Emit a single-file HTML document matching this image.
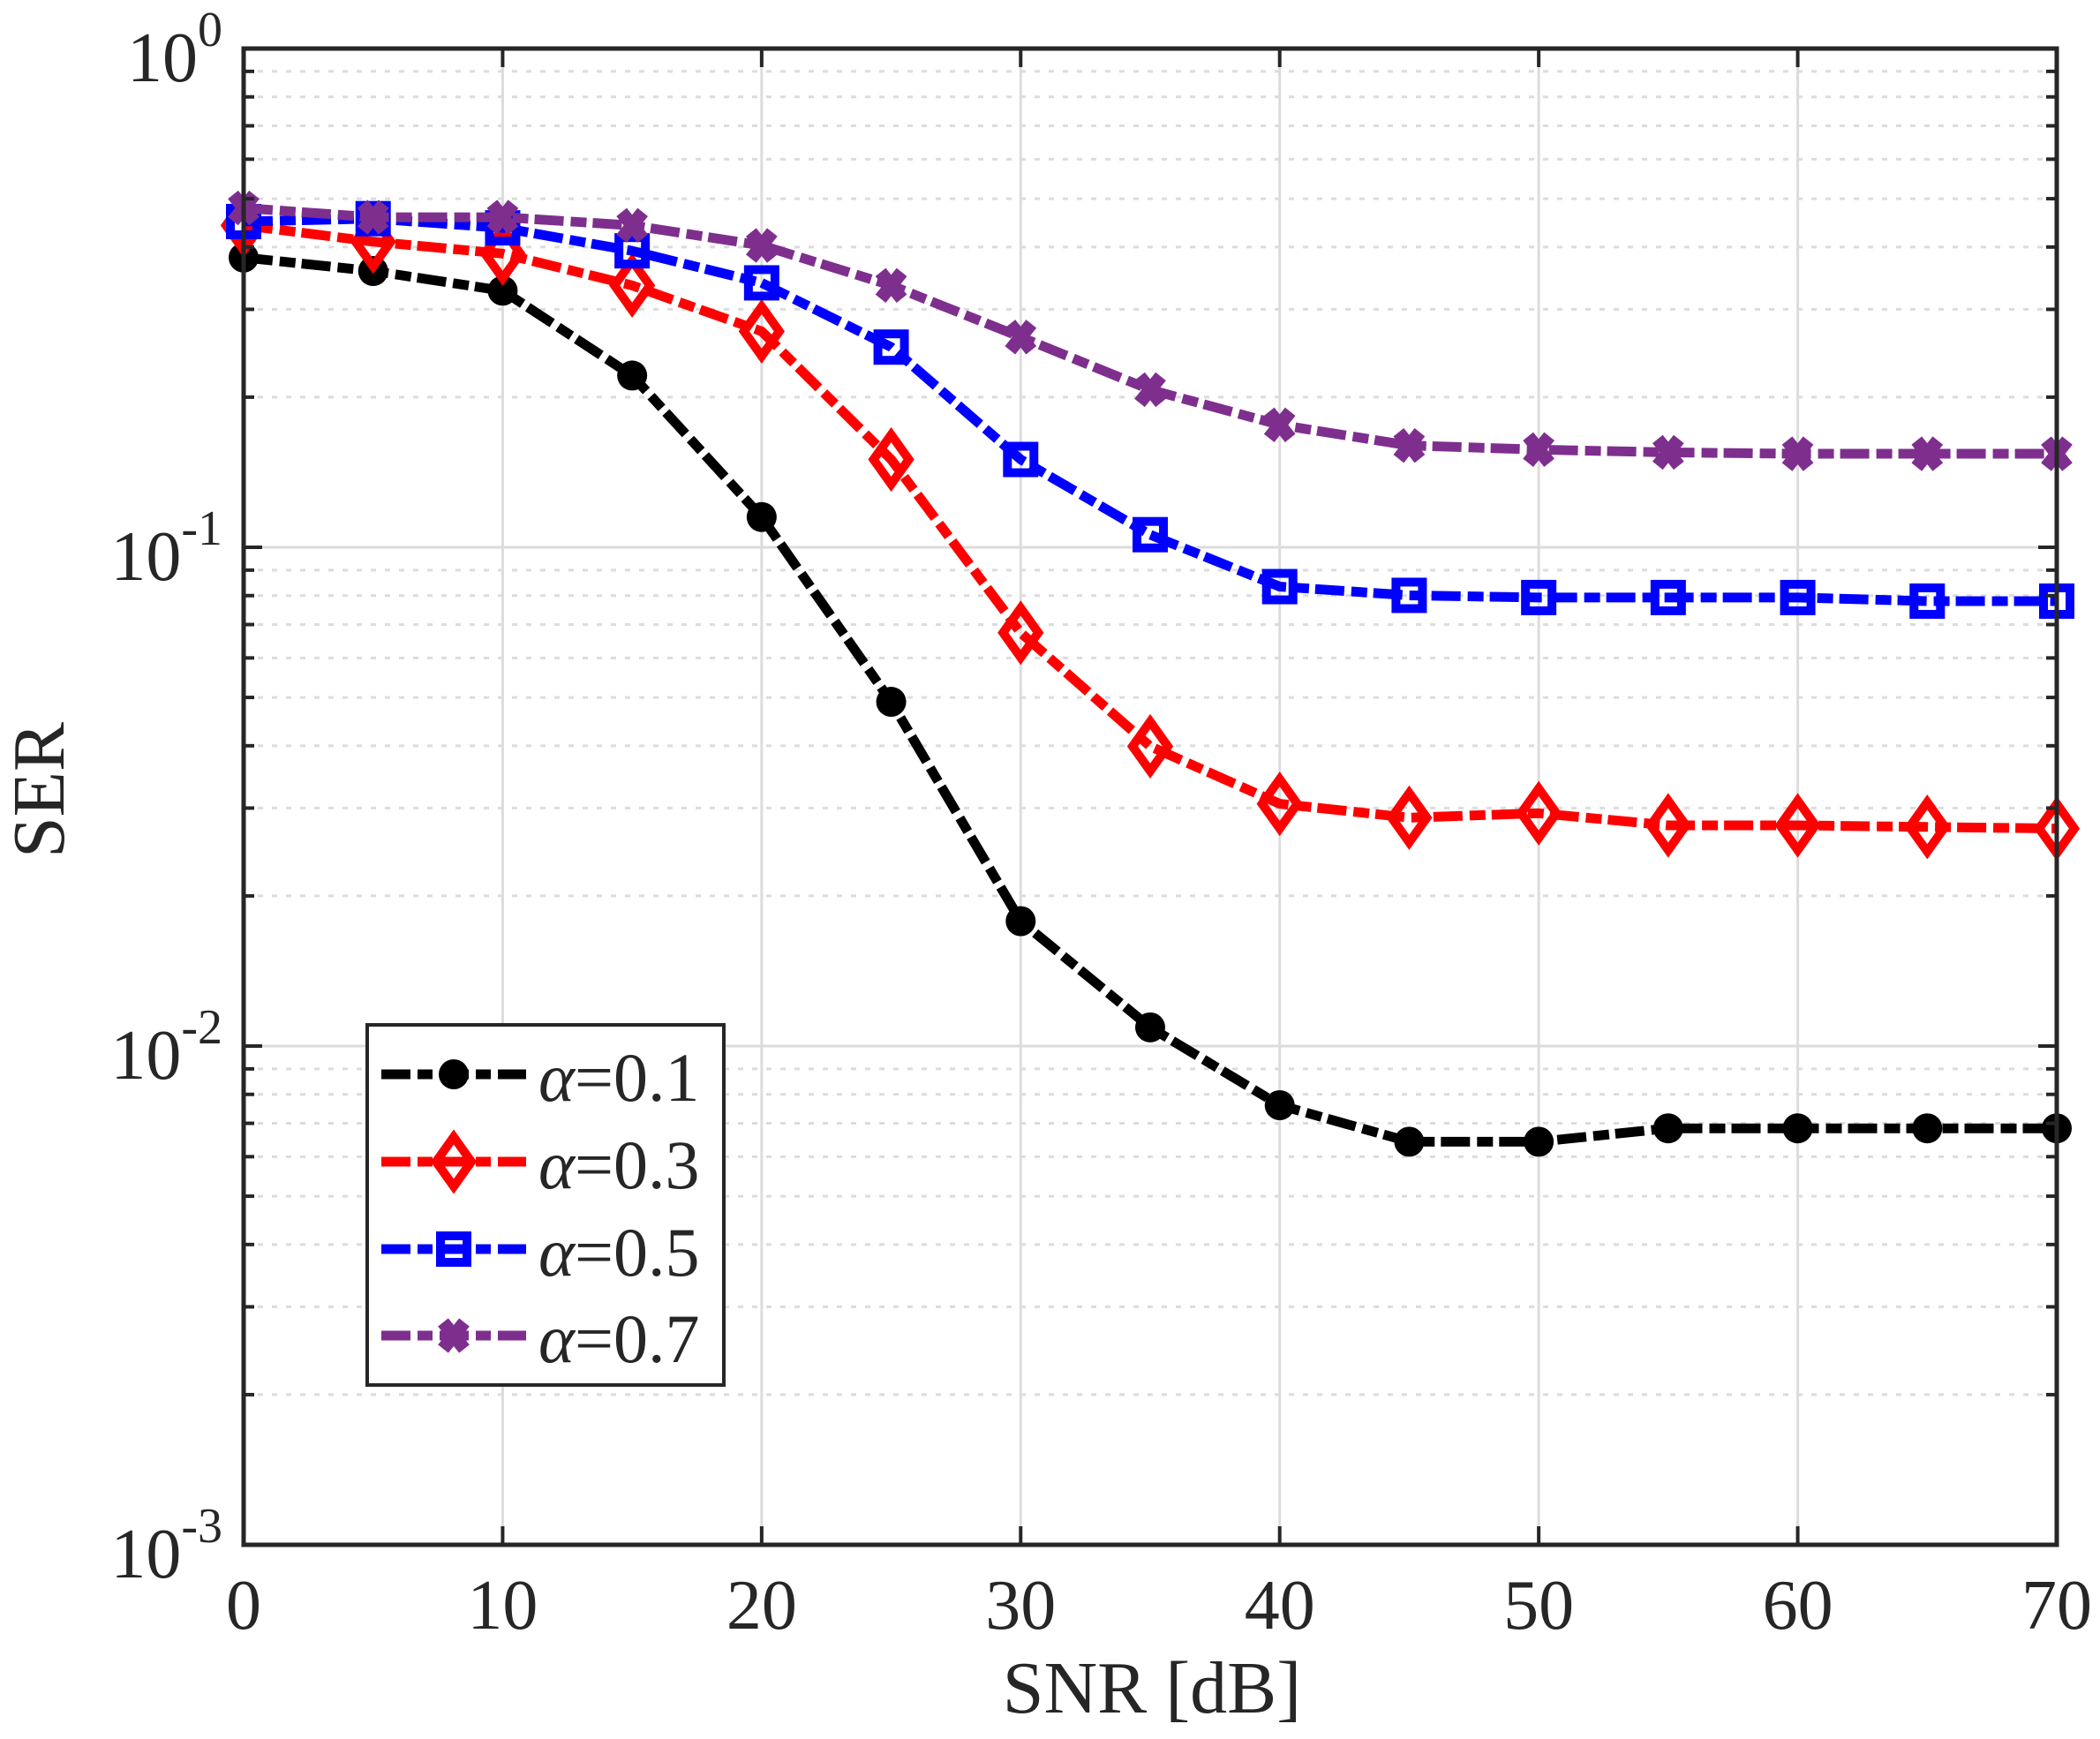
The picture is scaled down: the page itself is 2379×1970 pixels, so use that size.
<!DOCTYPE html>
<html><head><meta charset="utf-8"><style>html,body{margin:0;padding:0;background:#fff}svg{display:block}</style></head>
<body>
<svg id="chart" width="2379" height="1970" viewBox="0 0 2379 1970" xmlns="http://www.w3.org/2000/svg" font-family="'Liberation Serif', serif">
<rect x="0" y="0" width="2379" height="1970" fill="#fff"/>
<g id="grid"></g>
<g id="series"></g>
<g id="axes"></g>
<text x="1305" y="1940" font-size="84" text-anchor="middle" fill="#262626">SNR [dB]</text>
<text transform="translate(72,895) rotate(-90)" font-size="84" text-anchor="middle" fill="#262626">SER</text>
<g id="legend"></g>
</svg>
<script>
const snr = [0,5,10,15,20,25,30,35,40,45,50,55,60,65,70];
const ser01 = [0.381,0.358,0.327,0.221,0.115,0.049,0.0178,0.0109,0.00761,0.00643,0.00643,0.00684,0.00684,0.00684,0.00684];
const ser03 = [0.442,0.410,0.388,0.335,0.271,0.150,0.0674,0.0399,0.0306,0.0287,0.0293,0.0277,0.0277,0.0275,0.0273];
const ser05 = [0.450,0.456,0.437,0.393,0.339,0.252,0.150,0.106,0.0834,0.0801,0.0793,0.0793,0.0793,0.078,0.078];
const ser07 = [0.479,0.459,0.459,0.442,0.403,0.335,0.264,0.207,0.176,0.160,0.157,0.155,0.154,0.154,0.154];
const seriesLabels = ["0.1","0.3","0.5","0.7"];
const xTicks = [0,10,20,30,40,50,60,70];
const yDecades = [0,-1,-2,-3];

const NS="http://www.w3.org/2000/svg";
const L=276,R=2330,T=55,B=1750;
const xS=v=>L+(v-0)/(70-0)*(R-L);
const yS=v=>T+(0-Math.log10(v))/3*(B-T);
function mk(tag,attrs,parent){const e=document.createElementNS(NS,tag);for(const k in attrs)e.setAttribute(k,attrs[k]);parent.appendChild(e);return e;}
const grid=document.getElementById('grid'),axes=document.getElementById('axes'),ser=document.getElementById('series'),leg=document.getElementById('legend');

for(let d=-3;d<0;d++){for(let m=2;m<=9;m++){const y=yS(m*Math.pow(10,d));
 const g=mk('line',{x1:L,x2:R,y1:y,y2:y,stroke:'#dcdcdc','stroke-width':3,'stroke-dasharray':'6 10'},grid);
 
 const t1=mk('line',{x1:L,x2:L+12,y1:y,y2:y,stroke:'#262626','stroke-width':4},axes);
 
 const t2=mk('line',{x1:R,x2:R-12,y1:y,y2:y,stroke:'#262626','stroke-width':4},axes);
 }}
yDecades.forEach(d=>{const y=yS(Math.pow(10,d));
 const g=mk('line',{x1:L,x2:R,y1:y,y2:y,stroke:'#dcdcdc','stroke-width':3},grid);
 
 const t1=mk('line',{x1:L,x2:L+21,y1:y,y2:y,stroke:'#262626','stroke-width':4},axes);
 
 const t2=mk('line',{x1:R,x2:R-21,y1:y,y2:y,stroke:'#262626','stroke-width':4},axes);
 
 const tx=mk('text',{x:252,y:y+37,'font-size':80,'text-anchor':'end',fill:'#262626'},axes);
 
 const a=document.createElementNS(NS,'tspan');a.textContent='10';tx.appendChild(a);
 const b=document.createElementNS(NS,'tspan');b.setAttribute('dy','-40');b.setAttribute('font-size','56');b.textContent=String(d);tx.appendChild(b);});
xTicks.forEach(v=>{const x=xS(v);
 const g=mk('line',{x1:x,x2:x,y1:T,y2:B,stroke:'#dcdcdc','stroke-width':3},grid);
 
 const t1=mk('line',{x1:x,x2:x,y1:B,y2:B-21,stroke:'#262626','stroke-width':4},axes);
 
 const t2=mk('line',{x1:x,x2:x,y1:T,y2:T+21,stroke:'#262626','stroke-width':4},axes);
 
 const tx=mk('text',{x:x,y:1845,'font-size':80,'text-anchor':'middle',fill:'#262626'},axes);
 
 tx.textContent=String(v);});
const box=mk('rect',{x:L,y:T,width:R-L,height:B-T,fill:'none',stroke:'#262626','stroke-width':5},axes);


const colors=['#000000','#ff0000','#0000ff','#7e2f8e'];
const dash='33 8 18 7';
function marker(kind,x,y,c,parent){let e;
 if(kind===0){e=mk('circle',{cx:x,cy:y,r:17,fill:c},parent);}
 else if(kind===1){e=mk('path',{d:`M${x} ${y-28}L${x+20} ${y}L${x} ${y+28}L${x-20} ${y}Z`,fill:'none',stroke:c,'stroke-width':10},parent);}
 else if(kind===2){e=mk('rect',{x:x-15,y:y-15,width:30,height:30,fill:'none',stroke:c,'stroke-width':10},parent);}
 else {e=mk('path',{d:`M${x-12} ${y-15}L${x+12} ${y+15}M${x+12} ${y-15}L${x-12} ${y+15}`,stroke:c,'stroke-width':15,fill:'none'},parent);}
 return e;}
[ser01,ser03,ser05,ser07].forEach((arr,i)=>{
 const g=mk('g',{},ser);
 
 
 const pts=arr.map((v,j)=>xS(snr[j])+','+yS(v)).join(' ');
 const pl=mk('polyline',{points:pts,fill:'none',stroke:colors[i],'stroke-width':11,'stroke-dasharray':dash,'stroke-linejoin':'round'},g);
 
 
 arr.forEach((v,j)=>{const m=marker(i,xS(snr[j]),yS(v),colors[i],g);
  
  });
});
const lb=mk('rect',{x:416,y:1161,width:404,height:408,fill:'#fff',stroke:'#262626','stroke-width':4},leg);

const ly=[1217,1316,1415,1513];
seriesLabels.forEach((lab,i)=>{
 const g=mk('g',{},leg);
 
 
 mk('line',{x1:432,x2:596,y1:ly[i],y2:ly[i],stroke:colors[i],'stroke-width':11,'stroke-dasharray':'33 8 17 8'},g);
 marker(i,514,ly[i],colors[i],g);
 const t=mk('text',{x:610,y:ly[i]+30,'font-size':78,fill:'#262626'},g);
 const a=document.createElementNS(NS,'tspan');a.setAttribute('font-style','italic');a.textContent='α';t.appendChild(a);
 const b=document.createElementNS(NS,'tspan');b.textContent='='+lab;t.appendChild(b);
});
</script>
</body></html>
